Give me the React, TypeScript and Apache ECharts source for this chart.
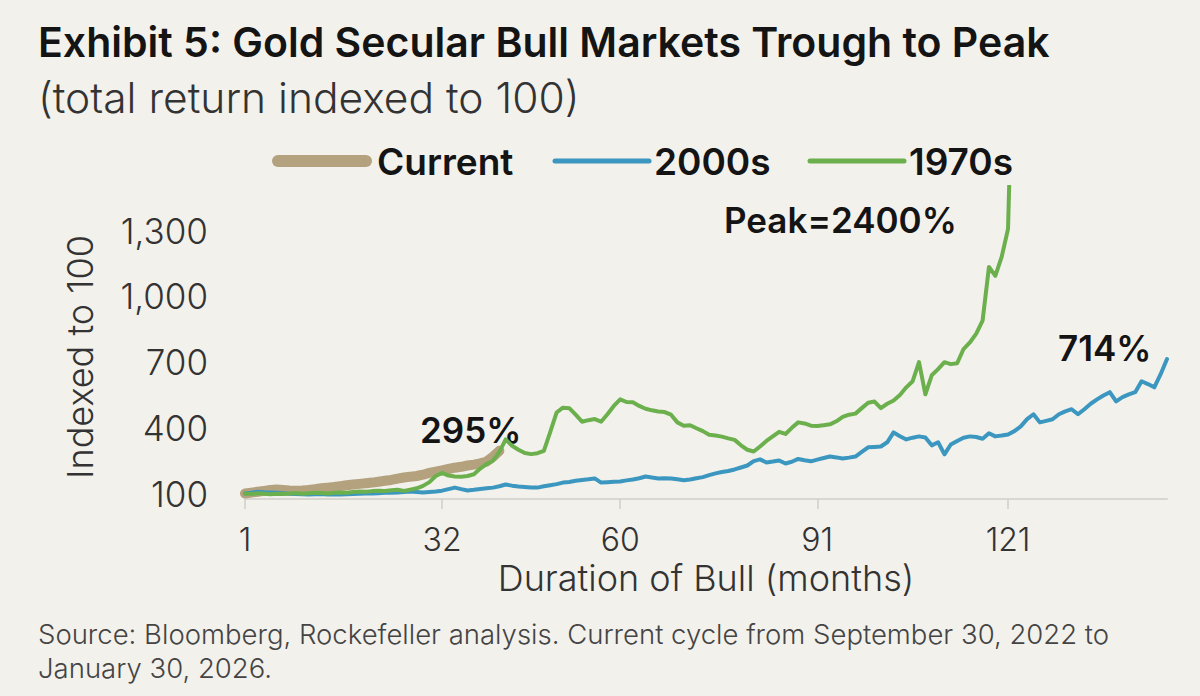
import React, { useEffect, useRef } from 'react';
import * as echarts from 'echarts';

// ---- Data ----
const seriesNames = ['Current', '2000s', '1970s'];

// Current cycle: Sep 30, 2022 .. Jan 30, 2026 (monthly, indexed to 100)
const currentValues = [
  100, 104, 108, 112, 116, 118, 116, 114, 113, 114,
  116, 120, 124, 127, 130, 134, 138, 141, 144, 147,
  150, 154, 158, 162, 168, 173, 177, 180, 186, 194,
  200, 206, 212, 218, 222, 228, 232, 238, 246, 268,
  295,
];

// 2000s bull market (monthly, indexed to 100)
const values2000s = [
  100, 104, 108, 106, 105, 103, 101, 99, 98, 97,
  96, 97, 98, 96, 95, 96, 97, 98, 99, 100,
  100, 101, 103, 104, 105, 107, 109, 107, 105, 107,
  109, 113, 120, 127, 120, 114, 117, 121, 124, 127,
  133, 141, 136, 132, 130, 128, 127, 133, 138, 143,
  150, 153, 158, 162, 165, 169, 150, 152, 154, 155,
  160, 164, 170, 178, 173, 169, 170, 169, 165, 161,
  164, 170, 175, 184, 192, 198, 203, 210, 219, 228,
  248, 256, 242, 246, 251, 237, 245, 258, 252, 247,
  255, 262, 269, 265, 260, 264, 269, 290, 311, 313,
  315, 334, 379, 362, 347, 355, 361, 356, 320, 334,
  279, 324, 340, 355, 361, 358, 350, 375, 361, 365,
  370, 385, 407, 440, 462, 425, 432, 439, 462, 475,
  485, 462, 485, 510, 530, 548, 563, 521, 540, 553,
  563, 613, 600, 585, 645, 714,
];

// 1970s bull market (monthly, indexed to 100; peak 2400)
const values1970s = [
  100, 98, 101, 99, 97, 99, 98, 100, 102, 99,
  101, 103, 102, 100, 103, 105, 104, 107, 109, 108,
  111, 113, 112, 115, 117, 112, 118, 124, 135, 152,
  180, 194, 182, 178, 177, 180, 188, 214, 235, 250,
  290, 347, 318, 300, 285, 280, 284, 295, 380, 470,
  492, 490, 460, 428, 435, 440, 428, 462, 500, 530,
  518, 517, 500, 487, 480, 475, 472, 460, 425, 410,
  412, 398, 385, 368, 365, 360, 352, 345, 320, 300,
  292, 315, 340, 361, 382, 372, 400, 425, 420, 410,
  408, 412, 416, 430, 450, 460, 465, 490, 515, 520,
  490, 510, 525, 550, 585, 613, 700, 553, 640, 668,
  700, 691, 695, 760, 790, 830, 890, 1135, 1094, 1181,
  1309, 2400,
];

const xTickMonths = [1, 32, 60, 91, 121];
const yTickValues = [100, 400, 700, 1000, 1300];

const annotations = ['295%', 'Peak=2400%', '714%'];

const COLORS = { current: '#b4a27f', s2000: '#3b97bf', s1970: '#6cb04d' };
const BG = '#f3f1ec';
const FONT = 'Inter, "Noto Sans", sans-serif';
const DARK = '#141414';
const GREY = '#333333';

const toPoints = (vals: number[]) => vals.map((v, i) => [i + 1, v]);

const txt = (
  text: string,
  x: number,
  y: number,
  fontSize: number,
  fontWeight: number,
  fill: string,
  extra: Record<string, unknown> = {}
) => ({
  type: 'text',
  x,
  y,
  ...extra,
  style: {
    text,
    fill,
    fontSize,
    fontWeight,
    fontFamily: FONT,
    textAlign: 'left',
    textVerticalAlign: 'middle',
  },
});

export default function App() {
  const ref = useRef<HTMLDivElement>(null);

  useEffect(() => {
    if (!ref.current) return;
    const chart = echarts.init(ref.current, null, { renderer: 'svg' });

    const legendY = 161;

    chart.setOption({
      animation: false,
      backgroundColor: BG,
      textStyle: { fontFamily: FONT },
      grid: { left: 245, right: 33, top: 187, bottom: 197 },
      xAxis: {
        type: 'value',
        min: 1,
        max: 146,
        splitLine: { show: false },
        axisLine: { show: true, lineStyle: { color: '#d9d7d2', width: 2 } },
        axisTick: {
          show: true,
          customValues: xTickMonths,
          length: 10,
          lineStyle: { color: '#d0cec9', width: 1.5 },
        },
        axisLabel: {
          customValues: xTickMonths,
          margin: 25,
          fontSize: 32,
          lineHeight: 30,
          fontWeight: 300,
          color: GREY,
          fontFamily: FONT,
        },
        name: 'Duration of Bull (months)',
        nameLocation: 'middle',
        nameGap: 64,
        nameTextStyle: {
          fontSize: 36,
          lineHeight: 30,
          fontWeight: 300,
          color: GREY,
          fontFamily: FONT,
        },
      },
      yAxis: {
        type: 'value',
        min: 75,
        max: 1500,
        splitLine: { show: false },
        axisLine: { show: false },
        axisTick: { show: false },
        axisLabel: {
          customValues: yTickValues,
          formatter: (v: number) => v.toLocaleString('en-US'),
          margin: 37,
          fontSize: 35,
          fontWeight: 300,
          color: GREY,
          fontFamily: FONT,
        },
      },
      series: [
        {
          name: seriesNames[0],
          type: 'line',
          data: toPoints(currentValues),
          symbol: 'none',
          showSymbol: false,
          itemStyle: { color: COLORS.current },
          lineStyle: { width: 10, color: COLORS.current, cap: 'round', join: 'round' },
          z: 2,
        },
        {
          name: seriesNames[1],
          type: 'line',
          data: toPoints(values2000s),
          symbol: 'none',
          showSymbol: false,
          itemStyle: { color: COLORS.s2000 },
          lineStyle: { width: 4, color: COLORS.s2000, cap: 'round', join: 'round' },
          z: 3,
        },
        {
          name: seriesNames[2],
          type: 'line',
          data: toPoints(values1970s),
          symbol: 'none',
          showSymbol: false,
          clip: true,
          itemStyle: { color: COLORS.s1970 },
          lineStyle: { width: 4, color: COLORS.s1970, cap: 'round', join: 'round' },
          z: 4,
        },
      ],
      graphic: [
        // title & subtitle
        txt('Exhibit 5: Gold Secular Bull Markets Trough to Peak', 38, 42, 41, 600, DARK),
        txt('(total return indexed to 100)', 38, 97, 42.5, 300, GREY),
        // legend
        {
          type: 'rect',
          shape: { x: 272, y: legendY - 6, width: 100, height: 12, r: 6 },
          style: { fill: COLORS.current },
        },
        txt(seriesNames[0], 377, legendY, 37, 600, DARK),
        {
          type: 'line',
          shape: { x1: 555, y1: legendY, x2: 649, y2: legendY },
          style: { stroke: COLORS.s2000, lineWidth: 5, lineCap: 'round' },
        },
        txt(seriesNames[1], 654, legendY, 37, 600, DARK),
        {
          type: 'line',
          shape: { x1: 810, y1: legendY, x2: 904, y2: legendY },
          style: { stroke: COLORS.s1970, lineWidth: 5, lineCap: 'round' },
        },
        txt(seriesNames[2], 909, legendY, 37, 600, DARK),
        // annotations
        txt(annotations[0], 420, 430, 35, 600, DARK),
        txt(annotations[1], 724, 220, 35, 600, DARK),
        txt(annotations[2], 1058, 348, 35, 600, DARK),
        // y axis name
        {
          type: 'text',
          x: 80,
          y: 357,
          rotation: Math.PI / 2,
          style: {
            text: 'Indexed to 100',
            fill: GREY,
            fontSize: 36,
            fontWeight: 300,
            fontFamily: FONT,
            textAlign: 'center',
            textVerticalAlign: 'middle',
          },
        },
        // source
        txt(
          'Source: Bloomberg, Rockefeller analysis. Current cycle from September 30, 2022 to',
          38,
          634,
          27.5,
          300,
          '#444'
        ),
        txt('January 30, 2026.', 38, 668, 27.5, 300, '#444'),
      ],
    });

    return () => chart.dispose();
  }, []);

  return (
    <div
      ref={ref}
      style={{ position: 'fixed', left: 0, top: 0, width: 1200, height: 696, background: BG }}
    />
  );
}
